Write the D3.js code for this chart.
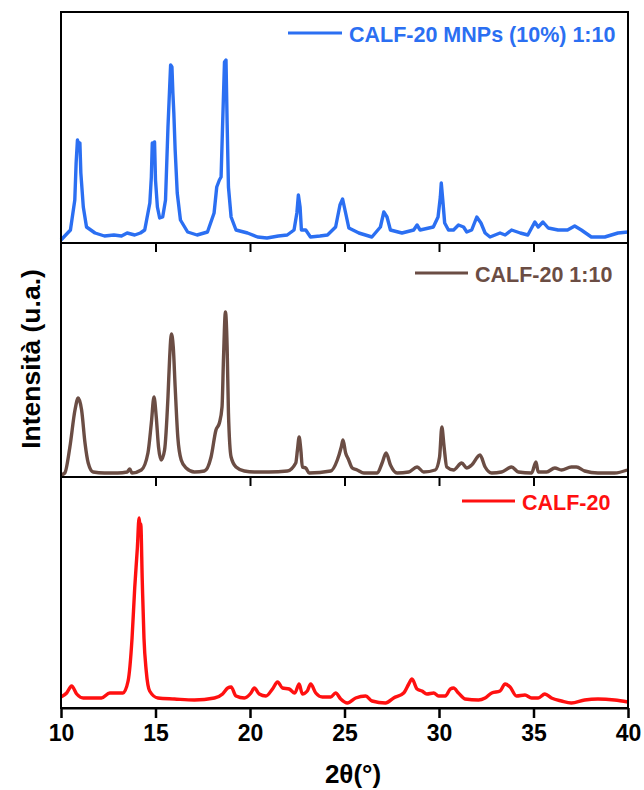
<!DOCTYPE html>
<html>
<head>
<meta charset="utf-8">
<script src="https://d3js.org/d3.v7.min.js"></script>
<style>
body{margin:0;background:#fff;}
text{font-family:Arial,"Liberation Sans",sans-serif;font-weight:bold;}
</style>
</head>
<body>
<div class="dgraph"></div>
<script>
// series names (legend), top to bottom
var seriesNames = ["CALF-20 MNPs (10%) 1:10", "CALF-20 1:10", "CALF-20"];
var xTicks = [10, 15, 20, 25, 30, 35, 40];

// CALF-20 MNPs (10%) 1:10
var mnpTheta = [10.0,10.5,10.73,10.8,10.87,10.95,11.0,11.05,11.18,11.35,11.8,12.3,12.8,13.2,13.5,13.9,14.2,14.43,14.7,14.78,14.83,14.88,14.95,15.0,15.1,15.22,15.38,15.53,15.66,15.75,15.8,15.87,15.92,15.97,16.04,16.15,16.32,16.7,17.2,17.75,18.1,18.24,18.38,18.47,18.55,18.65,18.73,18.79,18.86,19.0,19.26,19.87,20.4,20.9,21.5,21.97,22.33,22.48,22.56,22.65,22.72,22.95,23.2,23.7,24.1,24.53,24.76,24.9,25.06,25.23,25.76,26.45,26.9,27.08,27.25,27.43,28.04,28.66,28.84,29.0,29.7,29.95,30.07,30.12,30.2,30.3,30.5,30.77,31.03,31.3,31.47,31.73,32.0,32.22,32.44,32.7,33.23,33.5,33.84,34.3,34.7,35.07,35.25,35.5,35.78,36.3,36.8,37.18,37.53,38.06,38.77,39.47,40.0];
var mnpInt = [3,13,43,80,103,98,100,70,36,16,10,7,8,7,10,8,10,13,40,66,100,96,101,63,36,25,26,43,116,156,178,176,150,130,93,50,23,11,8,11,30,56,63,66,118,181,183,120,56,26,13,10,6,5,7,8,13,30,48,36,13,13,6,7,8,16,38,44,30,15,10,6,16,31,26,13,10,13,18,13,16,26,46,60,43,20,13,13,18,16,11,13,26,20,10,6,10,8,13,10,8,21,16,21,15,13,13,17,13,6,6,10,11];

// CALF-20 1:10
var calfTheta = [10.0,10.2,10.47,10.74,10.91,11.09,11.27,11.44,11.7,12.3,13.0,13.5,13.64,13.75,14.25,14.6,14.78,14.92,15.04,15.16,15.3,15.48,15.66,15.75,15.84,15.94,16.04,16.18,16.36,16.62,17.06,17.59,17.94,18.2,18.38,18.52,18.6,18.7,18.79,18.86,19.0,19.26,19.7,20.23,21.0,21.98,22.42,22.51,22.6,22.69,22.77,22.95,23.13,24.27,24.62,24.83,24.92,25.06,25.2,25.41,25.67,26.03,26.73,26.99,27.2,27.43,27.78,28.4,28.84,29.19,29.8,30.03,30.15,30.27,30.41,30.77,31.2,31.47,31.73,32.17,32.44,32.79,33.31,33.84,34.2,34.9,35.13,35.25,35.69,36.13,36.48,37.0,37.27,37.71,38.41,39.29,39.96];
var calfInt = [2,4,30,67,79,67,34,14,5,4,4,5,8,4,7,24,54,80,60,30,17,27,80,120,143,130,90,40,17,9,5,6,20,47,54,70,120,165,130,64,20,10,6,5,5,6,14,27,40,27,10,9,4,6,17,30,37,24,18,9,7,4,4,14,24,12,4,5,10,5,7,20,50,30,10,7,14,9,12,22,10,4,5,10,5,4,15,5,5,9,7,10,10,6,4,4,7];

// CALF-20
var refTheta = [10.0,10.3,10.56,10.83,11.18,12.14,12.58,13.28,13.55,13.76,13.9,14.04,14.13,14.18,14.22,14.3,14.39,14.51,14.69,15.13,16.0,17.06,18.12,18.55,18.82,19.0,19.26,19.7,20.05,20.23,20.49,20.84,21.19,21.46,21.72,22.07,22.37,22.6,22.77,23.03,23.21,23.48,23.83,24.27,24.53,24.8,25.15,25.59,26.12,26.46,27.17,27.6,28.13,28.4,28.57,28.84,29.1,29.36,29.72,29.98,30.33,30.6,30.77,31.03,31.38,32.09,32.44,32.79,33.23,33.5,33.76,34.1,34.55,34.9,35.25,35.6,35.95,36.48,37.0,37.71,38.41,39.29,40.0];
var refInt = [11,15,22,14,10,10,15,15,27,70,120,160,190,182,184,127,70,37,17,10,9,8,10,14,20,21,12,10,15,20,14,12,19,26,20,19,15,24,14,17,24,15,11,11,15,9,5,10,12,7,5,10,15,24,29,19,17,14,15,12,12,19,20,15,9,8,10,15,17,24,21,12,13,10,10,14,10,7,5,8,9,8,6];

var colors = ["#2b6ff2", "#6b4d44", "#ff1010"];
var curves = [d3.curveLinear, d3.curveMonotoneX, d3.curveMonotoneX];

var width = 644, height = 790;
var left = 61, right = 628;
var panelTop = [12, 243, 477];
var panelBot = [243, 477, 708];

var svg = d3.select("body .dgraph").append("svg")
    .attr("width", width).attr("height", height);

var x = d3.scaleLinear().domain([10, 40]).range([left, right]);

var allData = [
    d3.zip(mnpTheta, mnpInt),
    d3.zip(calfTheta, calfInt),
    d3.zip(refTheta, refInt)
];

allData.forEach(function(d, i){
    var y = d3.scaleLinear()
        .domain([0, panelBot[i] - panelTop[i]])
        .range([panelBot[i], panelTop[i]]);

    var line = d3.line()
        .curve(curves[i])
        .x(function(p){ return x(p[0]); })
        .y(function(p){ return y(p[1]); });

    svg.append("path")
        .datum(d)
        .attr("d", line)
        .attr("fill", "none")
        .attr("stroke", colors[i])
        .attr("stroke-width", 3.4)
        .attr("stroke-linejoin", "round");

    // frame
    svg.append("rect")
        .attr("x", left).attr("y", panelTop[i])
        .attr("width", right - left).attr("height", panelBot[i] - panelTop[i])
        .attr("fill", "none").attr("stroke", "#000").attr("stroke-width", 2);
});

// ticks on the inner boundaries, pointing down
[243, 477].forEach(function(yy){
    var g = svg.append("g")
        .attr("transform", "translate(0," + yy + ")")
        .call(d3.axisBottom(x).tickValues(xTicks.slice(1, -1)).tickSize(9).tickFormat(""));
    g.select(".domain").remove();
    g.selectAll("line").attr("stroke", "#000").attr("stroke-width", 2);
});

// bottom x axis
var xa = svg.append("g")
    .attr("transform", "translate(0," + 708 + ")")
    .call(d3.axisBottom(x).tickValues(xTicks).tickSize(10).tickPadding(7).tickSizeOuter(0));
xa.select(".domain").attr("stroke-width", 2);
xa.selectAll("line").attr("stroke-width", 2.5);
xa.selectAll("text")
    .style("font-size", "23px")
    .style("font-family", "Arial, 'Liberation Sans', sans-serif")
    .style("font-weight", "bold")
    .attr("fill", "#000");

// axis titles
svg.append("text")
    .attr("x", 353).attr("y", 783)
    .attr("text-anchor", "middle")
    .style("font-size", "26px")
    .text("2θ(°)");

svg.append("text")
    .attr("transform", "translate(40,359) rotate(-90)")
    .attr("text-anchor", "middle")
    .style("font-size", "26.5px")
    .text("Intensità (u.a.)");

// legends
var legX1 = [288, 415, 462], legX2 = [342, 468, 515];
var legY = [33, 273, 501];
seriesNames.forEach(function(name, i){
    svg.append("line")
        .attr("x1", legX1[i]).attr("x2", legX2[i])
        .attr("y1", legY[i]).attr("y2", legY[i])
        .attr("stroke", colors[i]).attr("stroke-width", 3);
    svg.append("text")
        .attr("x", legX2[i] + 7).attr("y", legY[i] + 8.5)
        .attr("fill", colors[i])
        .style("font-size", "21.5px")
        .text(name);
});
</script>
</body>
</html>
